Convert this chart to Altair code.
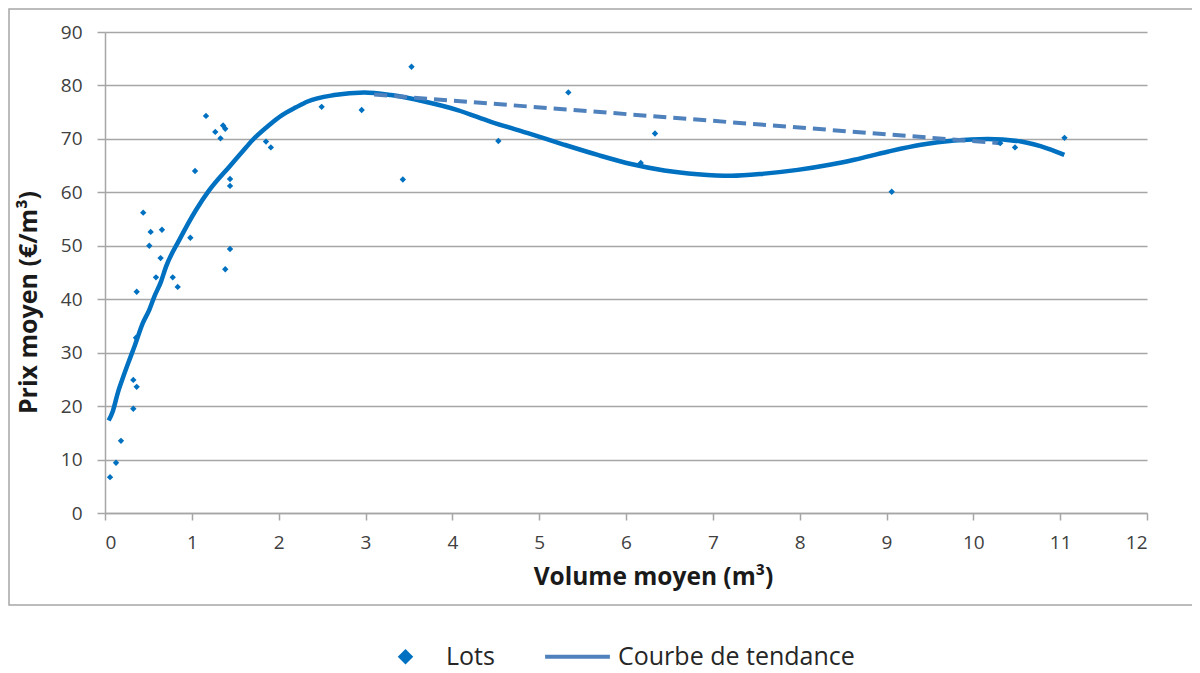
#!/usr/bin/env python3
"""Prix moyen vs volume moyen, with trend curve
"""
import altair as alt
import pandas as pd

FONT = 'Open Sans'
GRID = '#A6A6A6'
BLUE = '#0070C0'
STEEL = '#4F81BD'

# lots (points)
lots_x = [0.058, 0.127, 0.184, 0.326, 0.326, 0.365, 0.357, 0.365, 0.44, 0.51,
          0.526, 0.587, 0.64, 0.656, 0.78, 0.837, 0.983, 1.037, 1.163, 1.27,
          1.33, 1.36, 1.385, 1.385, 1.44, 1.44, 1.44, 1.854, 1.91, 2.495,
          2.956, 3.43, 3.53, 4.53, 5.336, 6.17, 6.334, 9.06, 10.31, 10.48,
          11.05]
lots_y = [6.7, 9.4, 13.5, 19.5, 24.9, 23.6, 32.8, 41.4, 56.2, 50.0,
          52.6, 44.1, 47.7, 53.0, 44.1, 42.3, 51.5, 64.0, 74.3, 71.3,
          70.1, 72.5, 71.9, 45.6, 62.5, 61.2, 49.4, 69.5, 68.4, 76.0,
          75.4, 62.4, 83.5, 69.6, 78.7, 65.5, 71.0, 60.1, 69.2, 68.4,
          70.2]

# trend curve
curve_x = [0.042, 0.089, 0.146, 0.204, 0.28, 0.338, 0.434, 0.51, 0.568, 0.645,
           0.703, 0.856, 1.048, 1.201, 1.432, 1.566, 1.70, 1.892, 2.027, 2.2,
           2.334, 2.64, 2.986, 3.294, 3.677, 4.06, 4.445, 4.906, 5.29, 5.674,
           6.058, 6.441, 6.825, 7.21, 7.593, 7.977, 8.361, 8.629, 9.013, 9.397,
           9.78, 10.165, 10.549, 10.857, 11.048]
curve_y = [17.3, 19.0, 22.4, 25.2, 28.6, 31.1, 35.5, 38.0, 40.5, 43.3,
           46.1, 51.1, 56.7, 60.4, 64.8, 67.3, 69.8, 72.6, 74.3, 75.9,
           77.0, 78.2, 78.7, 78.2, 77.0, 75.4, 73.2, 70.9, 68.9, 67.0,
           65.3, 64.1, 63.4, 63.1, 63.5, 64.2, 65.2, 66.1, 67.6, 68.9,
           69.7, 70.0, 69.5, 68.2, 67.0]

# dashed segment of the trend series
dash_x = [3.10, 10.31]
dash_y = [78.3, 69.2]

series = ['Lots', 'Courbe de tendance']
# small diamond and a flat bar (the legend's line sample)
DIAMOND = 'M0,-0.24L0.24,0L0,0.24L-0.24,0Z'
BAR = 'M-1,-0.06L1,-0.06L1,0.06L-1,0.06Z'

lots = pd.DataFrame({'volume': lots_x, 'prix': lots_y, 'serie': series[0]})
curve = pd.DataFrame({'volume': curve_x, 'prix': curve_y})
dash = pd.DataFrame({'volume': dash_x, 'prix': dash_y, 'serie': series[1]})
frame = pd.DataFrame({'k': [0]})

x_enc = alt.X(
    'volume:Q',
    scale=alt.Scale(domain=[0, 12], nice=False),
    axis=alt.Axis(
        title='Volume moyen (m³)', values=list(range(13)), format='d',
        grid=False, domainColor=GRID, domainWidth=1.5,
        tickColor=GRID, tickWidth=1.5, tickSize=7,
        labelFont=FONT, labelFontSize=19, labelColor='#404040',
        labelPadding=13,
        titleFont=FONT, titleFontSize=24.5, titleFontWeight='bold',
        titleColor='#1A1A1A', titleBaseline='alphabetic',
        titleX=548, titleY=71,
    ),
)
y_enc = alt.Y(
    'prix:Q',
    scale=alt.Scale(domain=[0, 90], nice=False),
    axis=alt.Axis(
        title='Prix moyen (€/m³)', values=list(range(0, 91, 10)),
        grid=True, gridColor=GRID, gridWidth=1.5,
        domainColor=GRID, domainWidth=1.5,
        tickColor=GRID, tickWidth=1.5, tickSize=8,
        labelFont=FONT, labelFontSize=19, labelColor='#404040',
        labelPadding=15,
        titleFont=FONT, titleFontSize=25, titleFontWeight='bold',
        titleColor='#1A1A1A', titleBaseline='alphabetic',
        titleAngle=-90, titleX=-69, titleY=270,
    ),
)

legend = alt.Legend(
    title=None, orient='none', legendX=268, legendY=592,
    direction='horizontal', symbolSize=4200, labelOffset=8,
    columnPadding=50, labelFont=FONT, labelFontSize=25,
    labelColor='#262626', labelLimit=400,
    symbolStrokeWidth=0, symbolOpacity=1,
)
color = alt.Color(
    'serie:N',
    scale=alt.Scale(domain=series, range=[BLUE, STEEL]),
    legend=legend,
)
shape = alt.Shape(
    'serie:N',
    scale=alt.Scale(domain=series, range=[DIAMOND, BAR]),
    legend=legend,
)

border = alt.Chart(frame).mark_rect(
    filled=False, stroke=GRID, strokeWidth=1.5
).encode(
    x=alt.value(-96), x2=alt.value(1100), y=alt.value(-23), y2=alt.value(573)
)

trend = alt.Chart(curve).mark_line(
    color=BLUE, strokeWidth=4.5, interpolate='monotone'
).encode(x_enc, y_enc)

dashed = alt.Chart(dash).mark_line(
    strokeWidth=4, strokeDash=[13, 7]
).encode(x_enc, y_enc, color=color)

points = alt.Chart(lots).mark_point(
    filled=True, size=700, opacity=1
).encode(x_enc, y_enc, color=color, shape=shape)

chart = alt.layer(border, trend, dashed, points).properties(
    width=1042, height=481,
    autosize=alt.AutoSizeParams(type='none'),
    padding={'left': 97, 'top': 24, 'right': 45, 'bottom': 160},
    background='white',
).configure_view(strokeWidth=0)

chart.save('out.html', embed_options={'renderer': 'svg', 'actions': False})
